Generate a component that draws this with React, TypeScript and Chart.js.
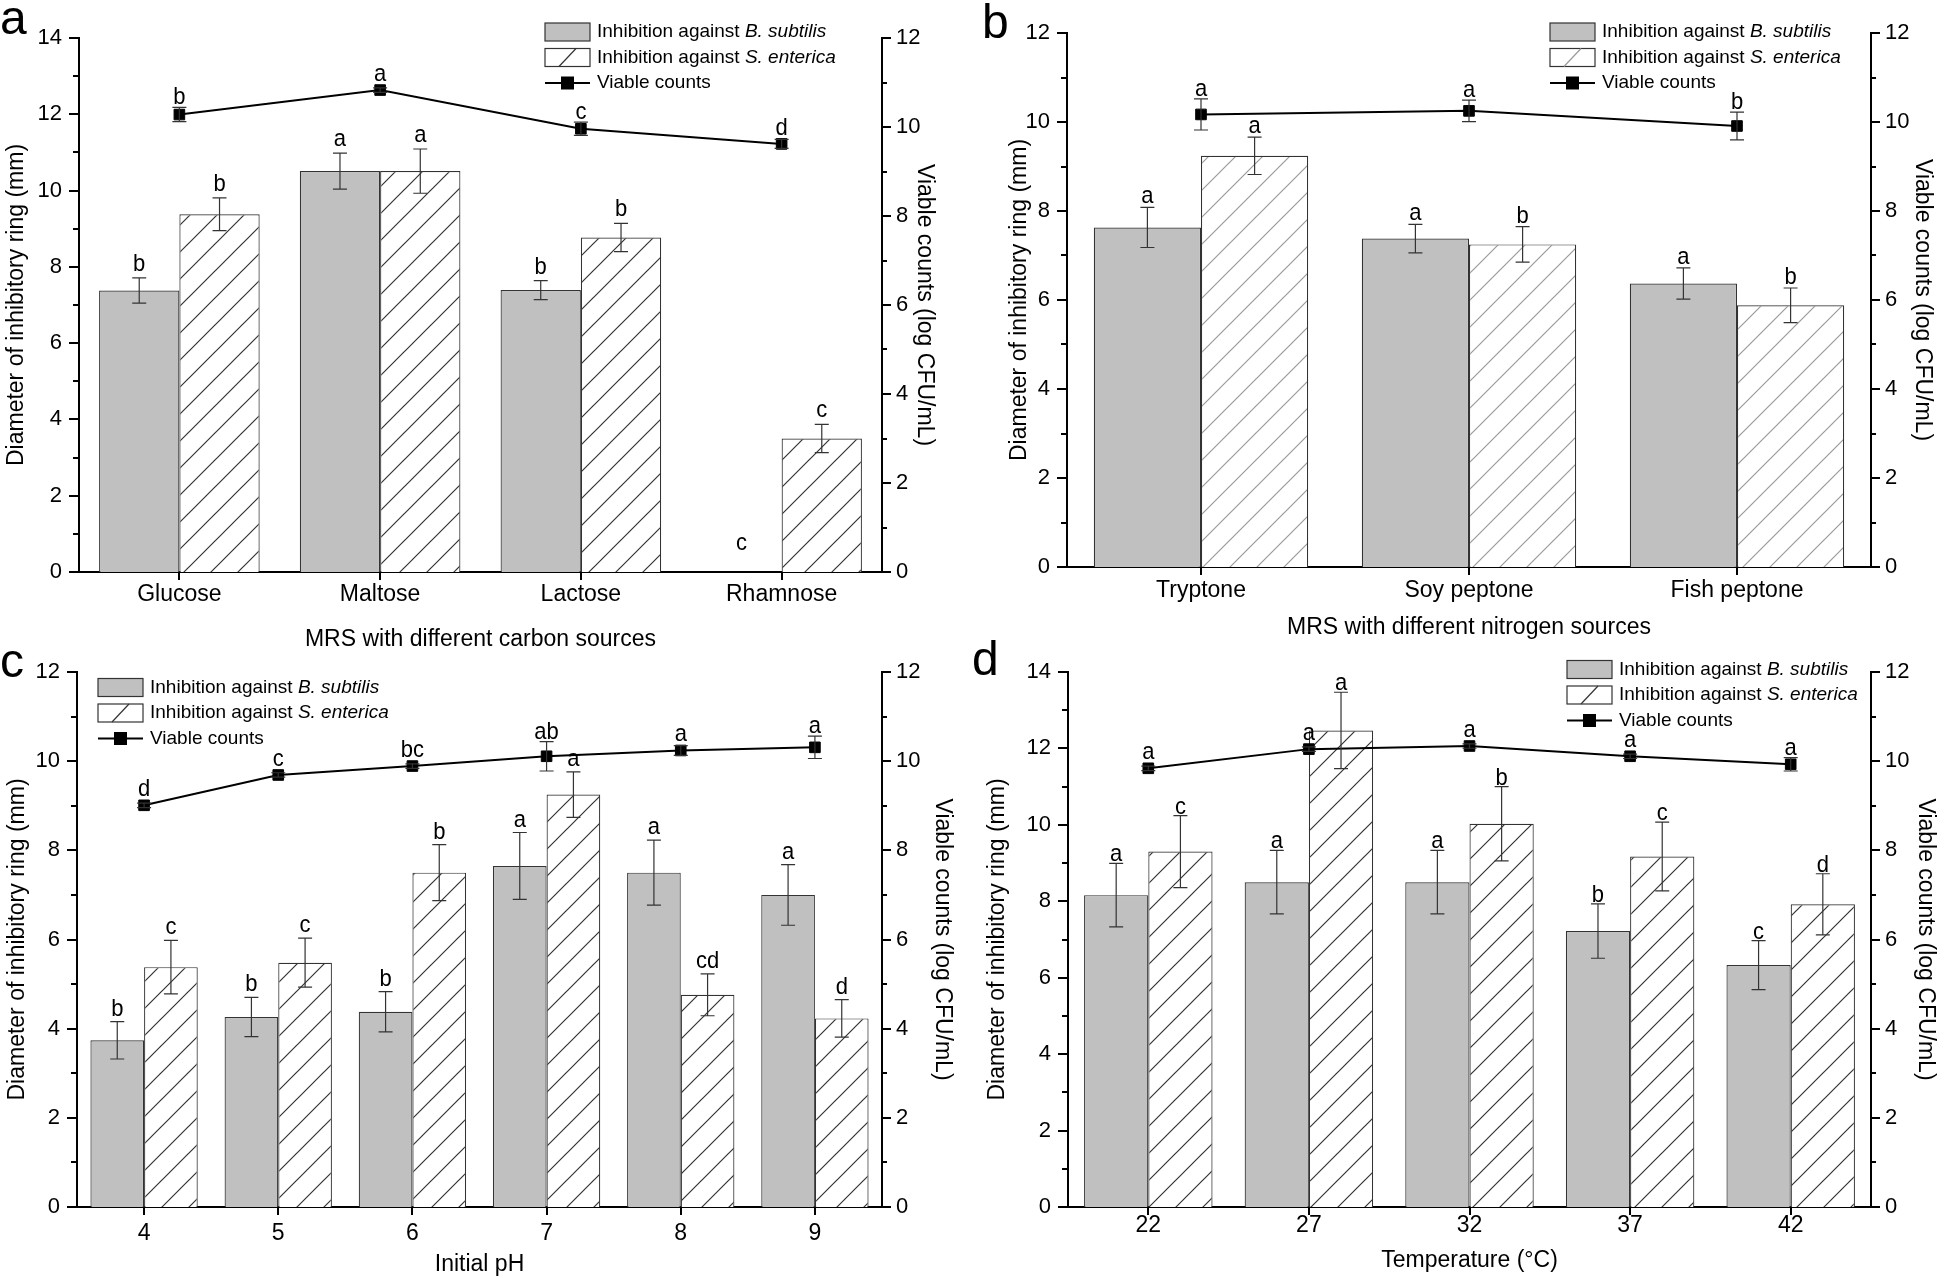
import React, { useEffect, useRef } from "react";
import { Chart, registerables } from "chart.js";

Chart.register(...registerables);

const FONT = "'Liberation Sans', Arial, Helvetica, sans-serif";

// ---------------- Panel a: carbon sources ----------------
const carbonLabels = ["Glucose", "Maltose", "Lactose", "Rhamnose"];
const carbonBs = [7.38, 10.51, 7.39, 0];
const carbonBsErr = [0.33, 0.47, 0.25, 0];
const carbonBsLetters = ["b", "a", "b", "c"];
const carbonSe = [9.38, 10.51, 8.77, 3.5];
const carbonSeErr = [0.43, 0.58, 0.37, 0.37];
const carbonSeLetters = ["b", "a", "b", "c"];
const carbonVc = [10.28, 10.83, 9.96, 9.62];
const carbonVcErr = [0.16, 0.05, 0.15, 0.1];
const carbonVcLetters = ["b", "a", "c", "d"];

// ---------------- Panel b: nitrogen sources ----------------
const nitrogenLabels = ["Tryptone", "Soy peptone", "Fish peptone"];
const nitrogenBs = [7.63, 7.38, 6.37];
const nitrogenBsErr = [0.45, 0.32, 0.35];
const nitrogenBsLetters = ["a", "a", "a"];
const nitrogenSe = [9.24, 7.25, 5.88];
const nitrogenSeErr = [0.42, 0.4, 0.39];
const nitrogenSeLetters = ["a", "b", "b"];
const nitrogenVc = [10.17, 10.25, 9.91];
const nitrogenVcErr = [0.35, 0.24, 0.31];
const nitrogenVcLetters = ["a", "a", "b"];

// ---------------- Panel c: initial pH ----------------
const phLabels = ["4", "5", "6", "7", "8", "9"];
const phBs = [3.74, 4.26, 4.38, 7.65, 7.5, 7.0];
const phBsErr = [0.42, 0.44, 0.45, 0.75, 0.73, 0.68];
const phBsLetters = ["b", "b", "b", "a", "a", "a"];
const phSe = [5.38, 5.48, 7.5, 9.25, 4.76, 4.23];
const phSeErr = [0.6, 0.55, 0.63, 0.51, 0.47, 0.42];
const phSeLetters = ["c", "c", "b", "a", "cd", "d"];
const phVc = [9.01, 9.69, 9.89, 10.11, 10.24, 10.31];
const phVcErr = [0.05, 0.05, 0.05, 0.33, 0.11, 0.25];
const phVcLetters = ["d", "c", "bc", "ab", "a", "a"];

// ---------------- Panel d: temperature ----------------
const tempLabels = ["22", "27", "32", "37", "42"];
const tempBs = [8.16, 8.5, 8.5, 7.22, 6.33];
const tempBsErr = [0.83, 0.83, 0.83, 0.71, 0.64];
const tempBsLetters = ["a", "a", "a", "b", "c"];
const tempSe = [9.3, 12.47, 10.03, 9.17, 7.92];
const tempSeErr = [0.94, 1.0, 0.97, 0.9, 0.8];
const tempSeLetters = ["c", "a", "b", "c", "d"];
const tempVc = [9.84, 10.27, 10.34, 10.11, 9.93];
const tempVcErr = [0.05, 0.05, 0.05, 0.05, 0.15];
const tempVcLetters = ["a", "a", "a", "a", "a"];

const LEFT_TITLE = "Diameter of inhibitory ring (mm)";
const RIGHT_TITLE = "Viable counts (log CFU/mL)";
const BS_NAME = "B. subtilis";
const SE_NAME = "S. enterica";
const VC_NAME = "Viable counts";

type Panel = {
  tag: string;
  left: number;
  top: number;
  width: number;
  height: number;
  area: { l: number; r: number; t: number; b: number };
  leftMax: number;
  labels: string[];
  bs: number[];
  bsErr: number[];
  bsLet: string[];
  se: number[];
  seErr: number[];
  seLet: string[];
  vc: number[];
  vcErr: number[];
  vcLet: string[];
  xTitle: string;
  xLabelPad: number;
  xTitlePad: number;
  leftTitlePad: number;
  rightTitlePad: number;
  legend: { x: number; y: number };
  hatch: string;
  letterGap: number;
  tagPos: { x: number; y: number };
};

const PANELS: Panel[] = [
  {
    tag: "a", left: 0, top: 0, width: 960, height: 660,
    area: { l: 79, r: 882, t: 38, b: 572 }, leftMax: 14,
    labels: carbonLabels, bs: carbonBs, bsErr: carbonBsErr, bsLet: carbonBsLetters,
    se: carbonSe, seErr: carbonSeErr, seLet: carbonSeLetters,
    vc: carbonVc, vcErr: carbonVcErr, vcLet: carbonVcLetters,
    xTitle: "MRS with different carbon sources", xLabelPad: 9, xTitlePad: 7,
    leftTitlePad: 3, rightTitlePad: 22, legend: { x: 545, y: 32 }, hatch: "#333333",
    letterGap: 7, tagPos: { x: 0, y: 34 },
  },
  {
    tag: "b", left: 960, top: 0, width: 984, height: 660,
    area: { l: 107, r: 911, t: 33, b: 567 }, leftMax: 12,
    labels: nitrogenLabels, bs: nitrogenBs, bsErr: nitrogenBsErr, bsLet: nitrogenBsLetters,
    se: nitrogenSe, seErr: nitrogenSeErr, seLet: nitrogenSeLetters,
    vc: nitrogenVc, vcErr: nitrogenVcErr, vcLet: nitrogenVcLetters,
    xTitle: "MRS with different nitrogen sources", xLabelPad: 10, xTitlePad: 19,
    leftTitlePad: 46, rightTitlePad: 8, legend: { x: 590, y: 32 }, hatch: "#9a9a9a",
    letterGap: 4, tagPos: { x: 22, y: 38 },
  },
  {
    tag: "c", left: 0, top: 640, width: 960, height: 638,
    area: { l: 77, r: 882, t: 32, b: 567 }, leftMax: 12,
    labels: phLabels, bs: phBs, bsErr: phBsErr, bsLet: phBsLetters,
    se: phSe, seErr: phSeErr, seLet: phSeLetters,
    vc: phVc, vcErr: phVcErr, vcLet: phVcLetters,
    xTitle: "Initial pH", xLabelPad: 13, xTitlePad: 0,
    leftTitlePad: 4, rightTitlePad: 4, legend: { x: 98, y: 47.5 }, hatch: "#333333",
    letterGap: 6, tagPos: { x: 0, y: 37 },
  },
  {
    tag: "d", left: 960, top: 640, width: 984, height: 638,
    area: { l: 108, r: 911, t: 32, b: 567 }, leftMax: 14,
    labels: tempLabels, bs: tempBs, bsErr: tempBsErr, bsLet: tempBsLetters,
    se: tempSe, seErr: tempSeErr, seLet: tempSeLetters,
    vc: tempVc, vcErr: tempVcErr, vcLet: tempVcLetters,
    xTitle: "Temperature (\u00B0C)", xLabelPad: 5, xTitlePad: 4,
    leftTitlePad: 24, rightTitlePad: 5, legend: { x: 607, y: 29.5 }, hatch: "#333333",
    letterGap: 2, tagPos: { x: 12, y: 35 },
  },
];

const GRAY = "#c0c0c0";
const EDGE = "#333333";

function makeHatch(ctx: CanvasRenderingContext2D, color: string) {
  const s = 27;
  const c = document.createElement("canvas");
  c.width = s;
  c.height = s;
  const g = c.getContext("2d")!;
  g.fillStyle = "#ffffff";
  g.fillRect(0, 0, s, s);
  g.strokeStyle = color;
  g.lineWidth = 1.2;
  g.beginPath();
  g.moveTo(0, s);
  g.lineTo(s, 0);
  g.moveTo(-2, 2);
  g.lineTo(2, -2);
  g.moveTo(s - 2, s + 2);
  g.lineTo(s + 2, s - 2);
  g.stroke();
  return ctx.createPattern(c, "repeat")!;
}

function drawLetter(ctx: CanvasRenderingContext2D, text: string, x: number, baseline: number) {
  ctx.save();
  ctx.translate(x, baseline);
  ctx.scale(1, 1.12);
  ctx.fillText(text, 0, 0);
  ctx.restore();
}

function drawErr(ctx: CanvasRenderingContext2D, x: number, yTop: number, yBot: number) {
  const cap = 7;
  ctx.beginPath();
  ctx.moveTo(x, yTop);
  ctx.lineTo(x, yBot);
  ctx.moveTo(x - cap, yTop);
  ctx.lineTo(x + cap, yTop);
  ctx.moveTo(x - cap, yBot);
  ctx.lineTo(x + cap, yBot);
  ctx.stroke();
}

function makePlugin(p: Panel) {
  return {
    id: "panelExtras" + p.tag,
    afterDatasetsDraw(chart: any) {
      const ctx: CanvasRenderingContext2D = chart.ctx;
      const y = chart.scales.y;
      const y1 = chart.scales.y1;
      ctx.save();
      ctx.strokeStyle = EDGE;
      ctx.lineWidth = 1.2;
      ctx.fillStyle = "#000";
      ctx.font = `22px ${FONT}`;
      ctx.textAlign = "center";
      ctx.textBaseline = "alphabetic";
      const barSets = [
        { idx: 1, v: p.bs, e: p.bsErr, l: p.bsLet },
        { idx: 2, v: p.se, e: p.seErr, l: p.seLet },
      ];
      barSets.forEach((s) => {
        const meta = chart.getDatasetMeta(s.idx);
        meta.data.forEach((el: any, i: number) => {
          const v = s.v[i];
          const e = s.e[i];
          if (v > 0 && e > 0) {
            drawErr(ctx, el.x, y.getPixelForValue(v + e), y.getPixelForValue(v - e));
          }
          const base = v > 0 ? y.getPixelForValue(v + e) - p.letterGap : y.getPixelForValue(0) - 22;
          drawLetter(ctx, s.l[i], el.x, base);
        });
      });
      const lm = chart.getDatasetMeta(0);
      lm.data.forEach((el: any, i: number) => {
        const v = p.vc[i];
        const e = p.vcErr[i];
        const top = y1.getPixelForValue(v + e);
        drawErr(ctx, el.x, top, y1.getPixelForValue(v - e));
        const mTop = y1.getPixelForValue(v) - 6;
        drawLetter(ctx, p.vcLet[i], el.x, Math.min(top, mTop) - 3);
      });
      ctx.restore();
    },
    afterDraw(chart: any) {
      const ctx: CanvasRenderingContext2D = chart.ctx;
      const a = chart.chartArea;
      const y = chart.scales.y;
      const y1 = chart.scales.y1;
      const x = chart.scales.x;
      ctx.save();
      // axis tick marks (major + minor)
      ctx.strokeStyle = "#000";
      ctx.lineWidth = 2;
      ctx.beginPath();
      for (let v = 0; v <= p.leftMax; v++) {
        const py = Math.round(y.getPixelForValue(v));
        const len = v % 2 === 0 ? 10 : 6;
        ctx.moveTo(a.left - len, py);
        ctx.lineTo(a.left, py);
      }
      for (let v = 0; v <= 12; v++) {
        const py = Math.round(y1.getPixelForValue(v));
        const len = v % 2 === 0 ? 9 : 5;
        ctx.moveTo(a.right, py);
        ctx.lineTo(a.right + len, py);
      }
      for (let i = 0; i < p.labels.length; i++) {
        const px = Math.round(x.getPixelForValue(i));
        ctx.moveTo(px, a.bottom);
        ctx.lineTo(px, a.bottom + 8);
      }
      ctx.stroke();

      // legend
      const lx = p.legend.x;
      const rowGap = 25.5;
      const bw = 45;
      const bh = 18;
      const r1 = p.legend.y;
      const r2 = r1 + rowGap;
      const r3 = r2 + rowGap;
      ctx.lineWidth = 1.2;
      ctx.strokeStyle = EDGE;
      ctx.fillStyle = GRAY;
      ctx.fillRect(lx, r1 - bh / 2, bw, bh);
      ctx.strokeRect(lx, r1 - bh / 2, bw, bh);
      ctx.fillStyle = "#fff";
      ctx.fillRect(lx, r2 - bh / 2, bw, bh);
      ctx.strokeRect(lx, r2 - bh / 2, bw, bh);
      ctx.beginPath();
      ctx.strokeStyle = p.hatch;
      ctx.moveTo(lx + 14, r2 + bh / 2);
      ctx.lineTo(lx + 31, r2 - bh / 2);
      ctx.stroke();
      ctx.strokeStyle = "#000";
      ctx.lineWidth = 2;
      ctx.beginPath();
      ctx.moveTo(lx, r3);
      ctx.lineTo(lx + bw, r3);
      ctx.stroke();
      ctx.fillStyle = "#000";
      ctx.fillRect(lx + bw / 2 - 6.5, r3 - 6.5, 13, 13);

      const tx = lx + 52;
      ctx.textAlign = "left";
      ctx.textBaseline = "middle";
      const prefix = "Inhibition against ";
      ctx.font = `19px ${FONT}`;
      const pw = ctx.measureText(prefix).width;
      ctx.fillText(prefix, tx, r1);
      ctx.fillText(prefix, tx, r2);
      ctx.fillText(VC_NAME, tx, r3);
      ctx.font = `italic 19px ${FONT}`;
      ctx.fillText(BS_NAME, tx + pw, r1);
      ctx.fillText(SE_NAME, tx + pw, r2);

      // panel tag
      ctx.font = `48px ${FONT}`;
      ctx.textBaseline = "alphabetic";
      ctx.fillText(p.tag, p.tagPos.x, p.tagPos.y);
      ctx.restore();
    },
  };
}

function PanelChart({ p }: { p: Panel }) {
  const ref = useRef<HTMLCanvasElement | null>(null);
  useEffect(() => {
    const canvas = ref.current!;
    const ctx = canvas.getContext("2d")!;
    const hatch = makeHatch(ctx, p.hatch);
    const tickFont = { family: FONT, size: 22 };
    const titleFont = { family: FONT, size: 23 };
    const chart = new Chart(canvas, {
      type: "bar",
      data: {
        labels: p.labels,
        datasets: [
          {
            type: "line",
            label: VC_NAME,
            data: p.vc,
            yAxisID: "y1",
            borderColor: "#000",
            borderWidth: 2,
            pointStyle: "rect",
            pointRadius: 7.5,
            pointBackgroundColor: "#000",
            pointBorderColor: "#000",
            pointBorderWidth: 1,
            tension: 0,
            order: 0,
          } as any,
          {
            type: "bar",
            label: "Inhibition against " + BS_NAME,
            data: p.bs,
            yAxisID: "y",
            backgroundColor: GRAY,
            borderColor: EDGE,
            borderWidth: 1.2,
            categoryPercentage: 0.8,
            barPercentage: 1.0,
            order: 1,
          },
          {
            type: "bar",
            label: "Inhibition against " + SE_NAME,
            data: p.se,
            yAxisID: "y",
            backgroundColor: hatch as any,
            borderColor: EDGE,
            borderWidth: 1.2,
            categoryPercentage: 0.8,
            barPercentage: 1.0,
            order: 1,
          },
        ],
      },
      options: {
        animation: false,
        responsive: false,
        maintainAspectRatio: false,
        devicePixelRatio: 1,
        layout: { padding: { top: p.area.t, left: 0, right: 0, bottom: 0 } },
        plugins: {
          legend: { display: false },
          tooltip: { enabled: false },
        },
        scales: {
          x: {
            type: "category",
            offset: true,
            grid: { display: false, drawTicks: false },
            border: { display: true, color: "#000", width: 2 },
            ticks: { font: { family: FONT, size: 23 }, color: "#000", padding: p.xLabelPad, maxRotation: 0, autoSkip: false },
            title: { display: true, text: p.xTitle, font: titleFont, color: "#000", padding: { top: 0, bottom: p.xTitlePad } },
            afterFit: (s: any) => {
              s.height = p.height - p.area.b;
            },
          },
          y: {
            position: "left",
            min: 0,
            max: p.leftMax,
            grid: { display: false, drawTicks: false },
            border: { display: true, color: "#000", width: 2 },
            ticks: { stepSize: 2, font: tickFont, color: "#000", padding: 17 },
            title: { display: true, text: LEFT_TITLE, font: titleFont, color: "#000", padding: { top: p.leftTitlePad, bottom: 0 } },
            afterFit: (s: any) => {
              s.width = p.area.l;
            },
          },
          y1: {
            position: "right",
            min: 0,
            max: 12,
            grid: { display: false, drawTicks: false },
            border: { display: true, color: "#000", width: 2 },
            ticks: { stepSize: 2, font: tickFont, color: "#000", padding: 14 },
            title: { display: true, text: RIGHT_TITLE, font: titleFont, color: "#000", padding: { top: p.rightTitlePad, bottom: 0 } },
            afterFit: (s: any) => {
              s.width = p.width - p.area.r;
            },
          },
        },
      } as any,
      plugins: [makePlugin(p)],
    });
    return () => chart.destroy();
  }, [p]);
  return (
    <canvas
      ref={ref}
      width={p.width}
      height={p.height}
      style={{ position: "absolute", left: p.left, top: p.top, width: p.width, height: p.height }}
    />
  );
}

export default function App() {
  return (
    <div
      style={{
        position: "absolute",
        left: 0,
        top: 0,
        width: 1944,
        height: 1278,
        background: "#ffffff",
        overflow: "hidden",
      }}
    >
      {PANELS.map((p) => (
        <PanelChart key={p.tag} p={p} />
      ))}
    </div>
  );
}
